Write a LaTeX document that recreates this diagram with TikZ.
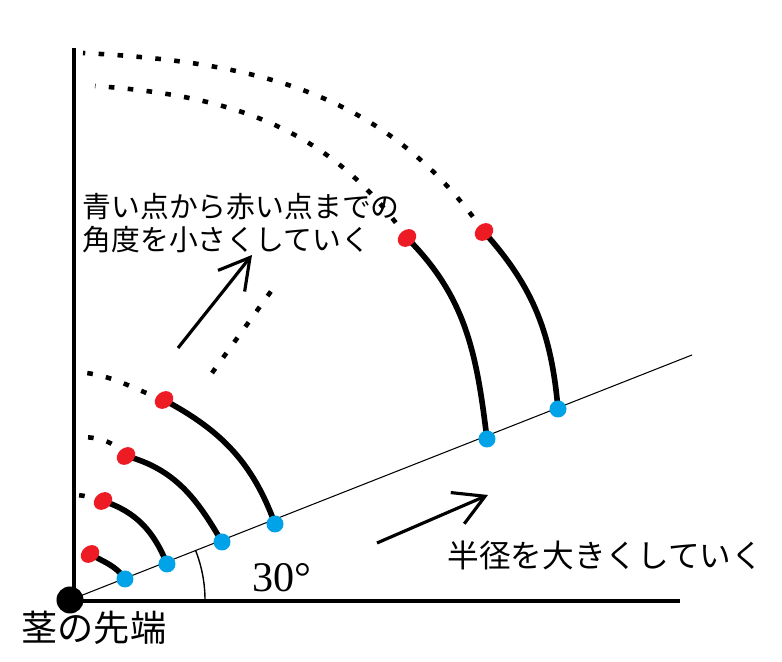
\documentclass[tikz,border=0pt]{standalone}
\usepackage{fontspec}
\newfontfamily\jpfont{Noto Sans CJK JP}
\newfontfamily\numfont{Liberation Serif}
\usepackage{tikz}
\usetikzlibrary{calc}
\usetikzlibrary{arrows.meta, positioning}
\tikzset{>={Straight Barb[length=3mm,width=3.4mm]}}
\definecolor{paintred}{RGB}{237,28,36}
\definecolor{paintblue}{RGB}{0,162,232}
\tikzset{
  stemline/.style={line width=1.6pt, line cap=round},
  dotline/.style={line width=1.3pt, dash pattern=on 1.6pt off 3.8pt},
  arrowline/.style={line width=0.9pt, ->},
}

\begin{document}
\begin{tikzpicture}[scale=1]
          \useasboundingbox (-0.70, -0.62) rectangle (7.12, 6.00);
          % points on the ray (blue) and the tips (red)
          \coordinate (b1) at (0.55, 0.21);  \coordinate (r1) at (0.20, 0.46);
          \coordinate (b2) at (0.97, 0.36);  \coordinate (r2) at (0.33, 0.99);
          \coordinate (b3) at (1.52, 0.58);  \coordinate (r3) at (0.56, 1.44);
          \coordinate (b4) at (2.05, 0.76);  \coordinate (r4) at (0.94, 2.00);
          \coordinate (b5) at (4.17, 1.61);  \coordinate (r5) at (3.37, 3.62);
          \coordinate (b6) at (4.88, 1.91);  \coordinate (r6) at (4.14, 3.68);
          \coordinate (ray end) at (6.22, 2.45);
          \draw[line width=0.3pt] (0, 0) -- (ray end);
          \draw[line width=0.4pt] (1.35, 0) arc [start angle=0, end angle=21.5, radius=1.35];
          % dotted continuations
          \draw[dotline] (r1) to [out=160, in=-10] (0.08, 0.50);
          \draw[dotline] (r2) to [out=165, in=-5] (0.07, 1.05);
          \draw[dotline] (r3) to [out=130, in=0] (0.08, 1.63);
          \draw[dotline] (r4) to [out=160, in=-5] (0.08, 2.28);
          \draw[dotline] (r5) to [out=125, in=-4] (0.25, 5.14);
          \draw[dotline] (r6) to [out=125, in=-3] (0.13, 5.47);
          \draw[dotline] (1.42, 2.27) -- (2.07, 3.17);
          % the stems
          \draw[stemline] (b1) to [out=125, in=-30] (r1);
          \draw[stemline] (b2) to [out=112, in=-18] (r2);
          \draw[stemline] (b3) to [out=120, in=-15] (r3);
          \draw[stemline] (b4) to [out=110, in=-28] (r4);
          \draw[stemline] (b5) to [out=97, in=-45] (r5);
          \draw[stemline] (b6) to [out=95, in=-48] (r6);
          \foreach \n in {1,...,6} {
            \fill [paintblue] (b\n) circle (0.085);
            \fill [paintred, rotate around={40:(r\n)}] (r\n) ellipse (0.1 and 0.08);
          }
          % axes
          \draw[line width=1.15pt] (0.04, 0) -- (0.04, 5.52);
          \draw[line width=1.4pt] (0, -0.01) -- (6.10, -0.01);
          \node[circle, fill, minimum size=0.27cm, inner sep=0] (tip) at (0, 0) {};
          % arrows
          \coordinate (a1 start) at (1.08, 2.52);  \coordinate (a1 end) at (1.82, 3.45);
          \coordinate (a2 start) at (3.07, 0.57);  \coordinate (a2 end) at (4.18, 1.05);
          \draw[arrowline] (a1 start) -- (a1 end);
          \draw[arrowline] (a2 start) -- (a2 end);
          % labels
          \node[anchor=west, align=left, inner sep=0, font=\jpfont\fontsize{8.2}{9.4}\selectfont] (angle text) at (0.12, 3.765) {青い点から赤い点までの\\角度を小さくしていく};
          \node[anchor=west, inner sep=0, font=\jpfont\fontsize{9}{10}\selectfont] (radius text) at (3.77, 0.45) {半径を大きくしていく};
          \node[inner sep=0, font=\jpfont\fontsize{10.3}{11}\selectfont] (tip text) at (0.24, -0.28) {茎の先端};
          \node[inner sep=0, font=\numfont\fontsize{12}{13}\selectfont] (angle value) at (2.12, 0.22) {30°};
        \end{tikzpicture}
\end{document}
